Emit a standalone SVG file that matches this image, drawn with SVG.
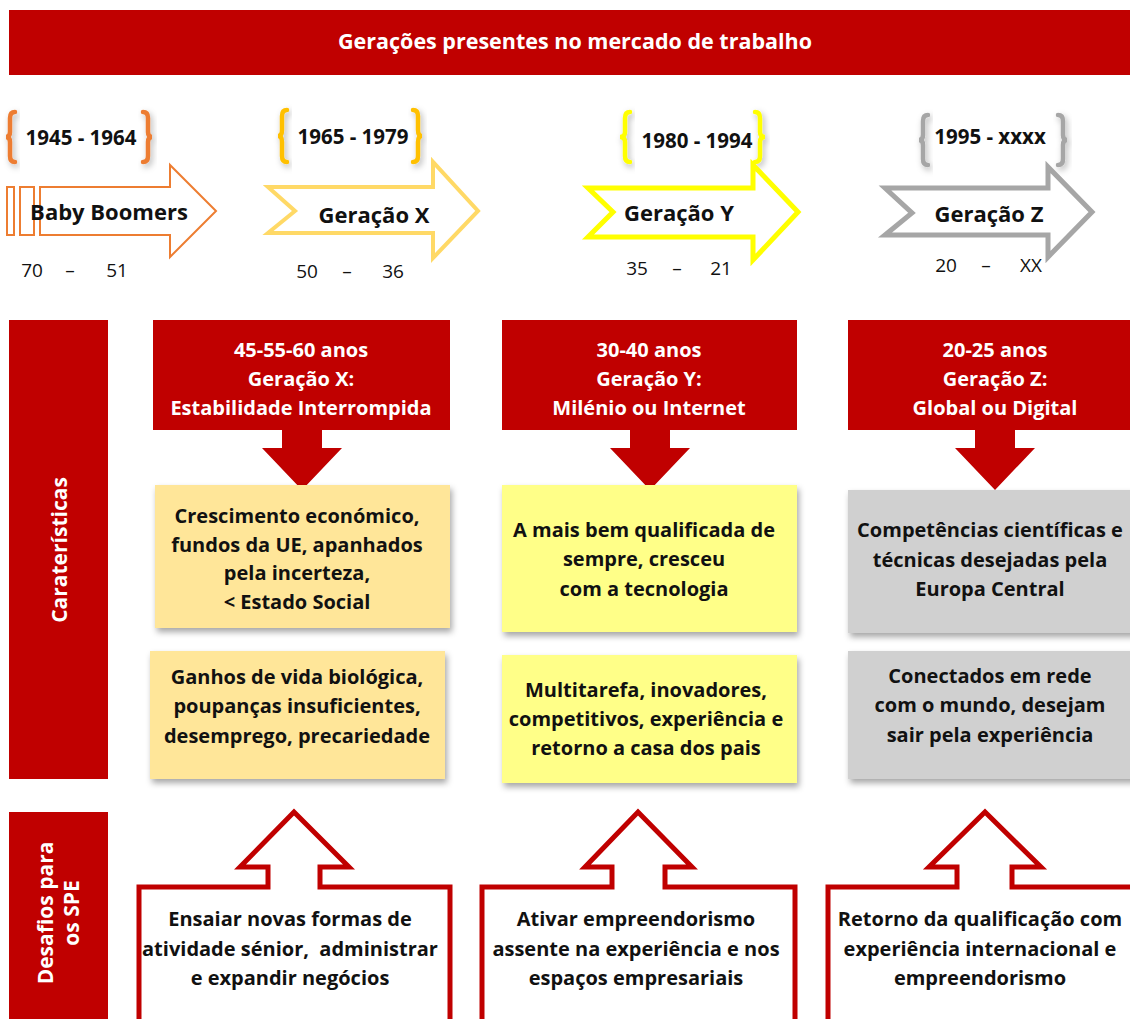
<svg xmlns="http://www.w3.org/2000/svg" width="1130" height="1019" viewBox="0 0 1130 1019">
<defs>
<filter id="sh" x="-10%" y="-10%" width="130%" height="140%">
<feDropShadow dx="2" dy="4" stdDeviation="3" flood-color="#000" flood-opacity="0.35"/>
</filter>
<filter id="bsh" x="-50%" y="-20%" width="200%" height="150%">
<feDropShadow dx="2" dy="3" stdDeviation="3" flood-color="#000" flood-opacity="0.3"/>
</filter>
</defs>
<style>
text{font-family:"Open Sans","Liberation Sans",sans-serif;font-weight:700;text-anchor:middle;}
.w{fill:#fff;font-size:20px;}
.v{fill:#fff;font-size:21px;}
.t{fill:#fff;font-size:21.5px;}
.b{fill:#111;font-size:20px;}
.yr{fill:#111;font-size:20.5px;}
.gen{fill:#111;font-size:22px;}
.age{fill:#111;font-size:19px;font-weight:400;}
.red{fill:#C00000;}
.brace{fill:none;stroke-width:4.5;stroke-linecap:round;filter:url(#bsh);}
.call{fill:#fff;stroke:#C00000;stroke-width:5;}
</style>

<g id="title">
<rect x="9" y="10" width="1121" height="65" class="red"/>
<text x="575" y="49" class="t">Gerações presentes no mercado de trabalho</text>
</g>

<g id="baby-boomers">
<path class="brace" stroke="#ED7D31" d="M15,112 Q10,112 10,118 L10,132 Q10,137 6,137 Q10,137 10,142 L10,156 Q10,162 15,162"/>
<path class="brace" stroke="#ED7D31" d="M143,112 Q148,112 148,118 L148,132 Q148,137 152,137 Q148,137 148,142 L148,156 Q148,162 143,162"/>
<text x="81" y="145" class="yr">1945 - 1964</text>
<g fill="#fff" stroke="#ED7D31" stroke-width="2">
<rect x="7" y="187" width="7" height="48"/>
<rect x="20" y="187" width="14" height="48"/>
<path d="M40,187 L170,187 L170,165 L216,211 L170,257 L170,235 L40,235 Z"/>
</g>
<text x="109" y="220" class="gen">Baby Boomers</text>
<text x="32" y="277" class="age">70</text><text x="70" y="277" class="age">–</text><text x="117" y="277" class="age">51</text>
</g>

<g id="geracao-x">
<path class="brace" stroke="#FFC000" d="M287,110 Q282,110 282,116 L282,130 Q282,136 278,136 Q282,136 282,142 L282,156 Q282,162 287,162"/>
<path class="brace" stroke="#FFC000" d="M413,110 Q418,110 418,116 L418,130 Q418,136 422,136 Q418,136 418,142 L418,156 Q418,162 413,162"/>
<text x="353" y="144" class="yr">1965 - 1979</text>
<path d="M268,187 L433,187 L433,162 L478,211 L433,258 L433,233 L268,233 L295,211 Z" fill="#fff" stroke="#FFD966" stroke-width="4"/>
<text x="374" y="223" class="gen">Geração X</text>
<text x="307" y="278" class="age">50</text><text x="347" y="278" class="age">–</text><text x="393" y="278" class="age">36</text>
</g>

<g id="geracao-y">
<path class="brace" stroke="#FFFF00" d="M630,112 Q625,112 625,118 L625,132 Q625,137 620,137 Q625,137 625,142 L625,156 Q625,162 630,162"/>
<path class="brace" stroke="#FFFF00" d="M755,112 Q760,112 760,118 L760,132 Q760,137 765,137 Q760,137 760,142 L760,156 Q760,162 755,162"/>
<text x="697" y="148" class="yr">1980 - 1994</text>
<path d="M588,188 L753,188 L753,165 L798,212 L753,260 L753,237 L588,237 L613,212 Z" fill="#fff" stroke="#FFFF00" stroke-width="5"/>
<text x="679" y="221" class="gen">Geração Y</text>
<text x="637" y="275" class="age">35</text><text x="677" y="275" class="age">–</text><text x="721" y="275" class="age">21</text>
</g>

<g id="geracao-z">
<path class="brace" stroke="#A6A6A6" d="M928,115 Q923,115 923,121 L923,135 Q923,140 919,140 Q923,140 923,145 L923,159 Q923,165 928,165"/>
<path class="brace" stroke="#A6A6A6" d="M1058,115 Q1063,115 1063,121 L1063,135 Q1063,140 1067,140 Q1063,140 1063,145 L1063,159 Q1063,165 1058,165"/>
<text x="990" y="144" class="yr">1995 - xxxx</text>
<path d="M885,188 L1048,188 L1048,167 L1092,212 L1048,257 L1048,235 L885,235 L912,213 Z" fill="#fff" stroke="#A6A6A6" stroke-width="5"/>
<text x="989" y="222" class="gen">Geração Z</text>
<text x="946" y="272" class="age">20</text><text x="986" y="272" class="age">–</text><text x="1031" y="272" class="age">XX</text>
</g>

<g id="label-caracteristicas">
<rect x="9" y="320" width="99" height="459" class="red"/>
<text transform="translate(67,550) rotate(-90)" class="v">Caraterísticas</text>
</g>

<g id="label-desafios">
<rect x="9" y="812" width="99" height="207" class="red"/>
<text transform="translate(53,913) rotate(-90)" class="v">Desafios para</text>
<text transform="translate(79,913) rotate(-90)" class="v">os SPE</text>
</g>

<g id="header-x">
<rect x="153" y="320" width="297" height="110" class="red"/>
<path d="M282,429 L322,429 L322,448 L342,448 L302,490 L262,448 L282,448 Z" class="red"/>
<text x="301" y="357" class="w">45-55-60 anos</text>
<text x="301" y="386" class="w">Geração X:</text>
<text x="301" y="415" class="w">Estabilidade Interrompida</text>
</g>

<g id="header-y">
<rect x="502" y="320" width="295" height="110" class="red"/>
<path d="M630,429 L670,429 L670,448 L690,448 L650,490 L610,448 L630,448 Z" class="red"/>
<text x="649" y="357" class="w">30-40 anos</text>
<text x="649" y="386" class="w">Geração Y:</text>
<text x="649" y="415" class="w">Milénio ou Internet</text>
</g>

<g id="header-z">
<rect x="848" y="320" width="282" height="110" class="red"/>
<path d="M975,429 L1015,429 L1015,448 L1035,448 L995,490 L955,448 L975,448 Z" class="red"/>
<text x="995" y="357" class="w">20-25 anos</text>
<text x="995" y="386" class="w">Geração Z:</text>
<text x="995" y="415" class="w">Global ou Digital</text>
</g>

<g id="x-car-1">
<rect x="155" y="485" width="295" height="143" fill="#FFE699" filter="url(#sh)"/>
<text x="297" y="523" class="b">Crescimento económico,</text>
<text x="297" y="552" class="b">fundos da UE, apanhados</text>
<text x="297" y="580" class="b">pela incerteza,</text>
<text x="297" y="609" class="b">&lt; Estado Social</text>
</g>

<g id="x-car-2">
<rect x="150" y="651" width="295" height="128" fill="#FFE699" filter="url(#sh)"/>
<text x="297" y="684" class="b">Ganhos de vida biológica,</text>
<text x="297" y="713" class="b">poupanças insuficientes,</text>
<text x="297" y="743" class="b">desemprego, precariedade</text>
</g>

<g id="y-car-1">
<rect x="502" y="485" width="295" height="147" fill="#FFFF88" filter="url(#sh)"/>
<text x="644" y="537" class="b">A mais bem qualificada de</text>
<text x="644" y="566" class="b">sempre, cresceu</text>
<text x="644" y="596" class="b">com a tecnologia</text>
</g>

<g id="y-car-2">
<rect x="502" y="655" width="295" height="128" fill="#FFFF88" filter="url(#sh)"/>
<text x="646" y="697" class="b">Multitarefa, inovadores,</text>
<text x="646" y="726" class="b">competitivos, experiência e</text>
<text x="646" y="755" class="b">retorno a casa dos pais</text>
</g>

<g id="z-car-1">
<rect x="848" y="490" width="290" height="143" fill="#D0D0D0" filter="url(#sh)"/>
<text x="990" y="537" class="b">Competências científicas e</text>
<text x="990" y="567" class="b">técnicas desejadas pela</text>
<text x="990" y="596" class="b">Europa Central</text>
</g>

<g id="z-car-2">
<rect x="848" y="651" width="290" height="128" fill="#D0D0D0" filter="url(#sh)"/>
<text x="990" y="683" class="b">Conectados em rede</text>
<text x="990" y="712" class="b">com o mundo, desejam</text>
<text x="990" y="742" class="b">sair pela experiência</text>
</g>

<g id="x-desafio">
<path class="call" d="M139,1025 L139,887 L268,887 L268,867 L240,867 L294,812 L349,867 L320,867 L320,887 L450,887 L450,1025"/>
<text x="290" y="926" class="b">Ensaiar novas formas de</text>
<text x="290" y="956" class="b" style="white-space:pre">atividade sénior,  administrar</text>
<text x="290" y="985" class="b">e expandir negócios</text>
</g>

<g id="y-desafio">
<path class="call" d="M482,1025 L482,887 L612,887 L612,867 L585,867 L638,812 L692,867 L665,867 L665,887 L795,887 L795,1025"/>
<text x="636" y="926" class="b">Ativar empreendorismo</text>
<text x="636" y="956" class="b">assente na experiência e nos</text>
<text x="636" y="985" class="b">espaços empresariais</text>
</g>

<g id="z-desafio">
<path class="call" d="M828,1025 L828,887 L957,887 L957,867 L929,867 L985,812 L1041,867 L1012,867 L1012,887 L1135,887"/>
<text x="980" y="926" class="b">Retorno da qualificação com</text>
<text x="980" y="956" class="b">experiência internacional e</text>
<text x="980" y="985" class="b">empreendorismo</text>
</g>
</svg>
